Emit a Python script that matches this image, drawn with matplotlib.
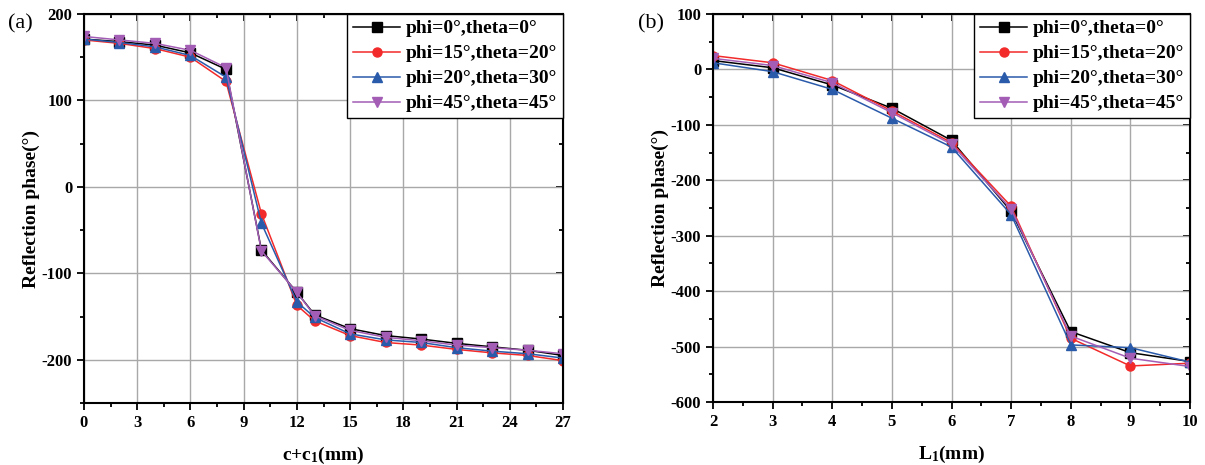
import numpy as np
import matplotlib
matplotlib.use('Agg')
import matplotlib.pyplot as plt
from matplotlib.ticker import MultipleLocator

plt.rcParams['font.family'] = ['Liberation Serif', 'DejaVu Serif']
plt.rcParams['font.weight'] = 'bold'
plt.rcParams['axes.unicode_minus'] = False
plt.rcParams['mathtext.fontset'] = 'custom'
plt.rcParams['mathtext.rm'] = 'Liberation Serif:bold'
plt.rcParams['mathtext.it'] = 'Liberation Serif:bold'
plt.rcParams['mathtext.bf'] = 'Liberation Serif:bold'

labels = ['phi=0°,theta=0°', 'phi=15°,theta=20°', 'phi=20°,theta=30°', 'phi=45°,theta=45°']
colors = ['#000000', '#f22a2a', '#2a5aaa', '#a35db5']
markers = ['s', 'o', '^', 'v']

# (a) phase vs c+c1
cc1 = [0, 2, 4, 6, 8, 10, 12, 13, 15, 17, 19, 21, 23, 25, 27]
phase_a = [
    [171, 168, 164, 155, 136, -73, -122, -148, -164, -172, -176, -181, -185, -189, -195],
    [170, 166, 160, 150, 122, -31, -137, -155, -172, -180, -183, -188, -192, -195, -201],
    [171, 167, 162, 152, 127, -42, -133, -151, -170, -177, -180, -186, -190, -193, -198],
    [174, 170, 166, 158, 138, -74, -122, -149, -166, -174, -178, -183, -186, -189, -193],
]

# (b) phase vs L1
L1 = [2, 3, 4, 5, 6, 7, 8, 9, 10]
phase_b = [
    [16, 3, -28, -70, -128, -256, -473, -511, -527],
    [25, 12, -20, -75, -132, -247, -485, -535, -530],
    [12, -4, -36, -88, -140, -262, -497, -502, -528],
    [20, 7, -24, -78, -135, -252, -481, -521, -536],
]

fig = plt.figure(figsize=(12.05, 4.65), dpi=100)
ax1 = fig.add_axes([84/1205, 62/465, 479/1205, 389/465])
ax2 = fig.add_axes([713/1205, 63/465, 477/1205, 388/465])


def mirror(ax):
    # ticks on top/right point inward
    top = ax.secondary_xaxis('top')
    top.set_xticks(ax.get_xticks())
    top.xaxis.set_minor_locator(ax.xaxis.get_minor_locator())
    top.tick_params(which='both', direction='in', labeltop=False, width=1.3)
    top.tick_params(which='major', length=5)
    top.tick_params(which='minor', length=3)
    right = ax.secondary_yaxis('right')
    right.set_yticks(ax.get_yticks())
    right.yaxis.set_minor_locator(ax.yaxis.get_minor_locator())
    right.tick_params(which='both', direction='in', labelright=False, width=1.3)
    right.tick_params(which='major', length=5)
    right.tick_params(which='minor', length=3)


for ys, c, m, lab in zip(phase_a, colors, markers, labels):
    ax1.plot(cc1, ys, color=c, marker=m, ms=6.5, lw=1.1, label=lab)
ax1.set_xlim(0, 27)
ax1.set_ylim(-250, 200)
ax1.xaxis.set_major_locator(MultipleLocator(3))
ax1.xaxis.set_minor_locator(MultipleLocator(1.5))
ax1.yaxis.set_major_locator(MultipleLocator(100))
ax1.yaxis.set_minor_locator(MultipleLocator(50))
ax1.set_xlabel('c+c$_1$(mm)', fontsize=14, fontweight='bold', labelpad=10)

for ys, c, m, lab in zip(phase_b, colors, markers, labels):
    ax2.plot(L1, ys, color=c, marker=m, ms=6.5, lw=1.1, label=lab)
ax2.set_xlim(2, 10)
ax2.set_ylim(-600, 100)
ax2.xaxis.set_major_locator(MultipleLocator(1))
ax2.xaxis.set_minor_locator(MultipleLocator(0.5))
ax2.yaxis.set_major_locator(MultipleLocator(100))
ax2.yaxis.set_minor_locator(MultipleLocator(50))
ax2.set_xlabel('L$_1$(mm)', fontsize=14, fontweight='bold', labelpad=10)

for ax in (ax1, ax2):
    ax.grid(True, which='major', color='#a8a8a8', lw=1.0)
    ax.set_axisbelow(True)
    for s in ax.spines.values():
        s.set_linewidth(1.5)
    ax.tick_params(which='both', direction='out', width=1.3, labelsize=12)
    ax.tick_params(which='major', length=5)
    ax.tick_params(which='minor', length=3)
    for lab in ax.get_xticklabels() + ax.get_yticklabels():
        lab.set_fontweight('bold')
    ax.set_ylabel('Reflection phase(°)', fontsize=14, fontweight='bold', labelpad=1)
    mirror(ax)
    leg = ax.legend(loc='upper right', fontsize=14, frameon=True, fancybox=False,
                    borderaxespad=0, handlelength=2.4, handletextpad=0.3,
                    labelspacing=0.38, borderpad=0.3)
    leg.get_frame().set_edgecolor('black')
    leg.get_frame().set_linewidth(1.0)
    leg.get_frame().set_alpha(1.0)
    for t in leg.get_texts():
        t.set_fontweight('bold')

fig.text(8/1205, 1 - 24/465, '(a)', fontsize=16, fontweight='normal', va='center')
fig.text(638/1205, 1 - 24/465, '(b)', fontsize=16, fontweight='normal', va='center')

fig.savefig('out.png', dpi=100)
